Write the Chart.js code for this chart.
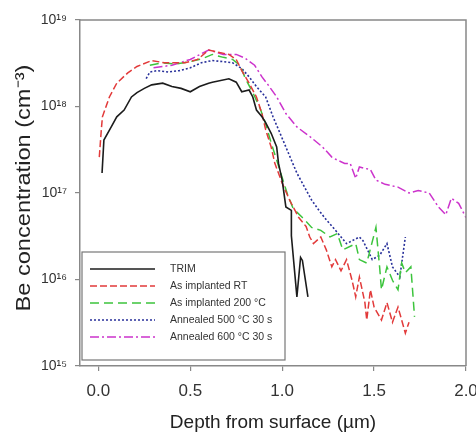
<!DOCTYPE html>
<html>
<head>
<meta charset="utf-8">
<script src="https://cdn.jsdelivr.net/npm/chart.js@4.4.0/dist/chart.umd.min.js"></script>
<style>
  html, body { margin: 0; padding: 0; background: #fff; }
  #wrap { width: 476px; height: 439px; }
</style>
</head>
<body>
<div id="wrap"><canvas id="chartBe" width="476" height="439"></canvas></div>
<script>
// Be depth profiles, depth in um, concentration in cm^-3
var seriesNames = ["TRIM", "As implanted RT", "As implanted 200 \u00B0C", "Annealed 500 \u00B0C 30 s", "Annealed 600 \u00B0C 30 s"];
var yTitle = "Be concentration (cm\u207B\u00B3)";

var trimDepth = [0.02, 0.03, 0.07, 0.10, 0.14, 0.18, 0.21, 0.25, 0.29, 0.35, 0.40, 0.45, 0.50, 0.55, 0.60, 0.62, 0.71, 0.75, 0.78, 0.82, 0.84, 0.86, 0.89, 0.91, 0.94, 0.97, 0.98, 1.00, 1.02, 1.05, 1.05, 1.08, 1.10, 1.11, 1.14];
var trimConc = [1.7e17, 4.1e17, 5.8e17, 7.6e17, 9.1e17, 1.29e18, 1.45e18, 1.62e18, 1.78e18, 1.86e18, 1.70e18, 1.62e18, 1.48e18, 1.70e18, 1.86e18, 1.91e18, 2.09e18, 1.91e18, 1.48e18, 1.55e18, 1.29e18, 9.1e17, 7.6e17, 6.5e17, 4.9e17, 3.4e17, 2.2e17, 1.4e17, 6.9e16, 6.3e16, 3.2e16, 6.3e15, 1.8e16, 1.66e16, 6.3e15];

var rtDepth = [0.005, 0.016, 0.022, 0.06, 0.10, 0.16, 0.21, 0.29, 0.36, 0.47, 0.54, 0.60, 0.66, 0.71, 0.75, 0.78, 0.82, 0.86, 0.89, 0.91, 0.94, 0.96, 1.00, 1.04, 1.09, 1.13, 1.15, 1.17, 1.21, 1.24, 1.27, 1.29, 1.32, 1.35, 1.38, 1.40, 1.42, 1.45, 1.46, 1.48, 1.50, 1.54, 1.57, 1.60, 1.63, 1.65, 1.67, 1.69];
var rtConc = [2.6e17, 5.4e17, 7.6e17, 1.29e18, 1.86e18, 2.45e18, 2.9e18, 3.4e18, 3.2e18, 3.2e18, 3.5e18, 4.5e18, 4.2e18, 4.0e18, 3.5e18, 2.6e18, 1.86e18, 1.29e18, 8.3e17, 5.4e17, 3.4e17, 2.2e17, 1.3e17, 8.3e16, 5.2e16, 4.1e16, 3.1e16, 2.6e16, 3.1e16, 2.2e16, 1.4e16, 1.7e16, 1.26e16, 1.7e16, 9.8e15, 6.3e15, 1.07e16, 5.4e15, 3.4e15, 7.6e15, 4.8e15, 3.4e15, 5.4e15, 3.2e15, 4.8e15, 3.4e15, 2.4e15, 3.2e15];

var t200Depth = [0.28, 0.35, 0.42, 0.50, 0.57, 0.62, 0.68, 0.73, 0.77, 0.80, 0.84, 0.88, 0.91, 0.94, 0.97, 1.00, 1.03, 1.06, 1.11, 1.16, 1.21, 1.26, 1.30, 1.33, 1.40, 1.42, 1.46, 1.51, 1.53, 1.54, 1.57, 1.60, 1.63, 1.65, 1.67, 1.70, 1.72];
var t200Conc = [3.0e18, 3.2e18, 3.1e18, 3.3e18, 3.6e18, 4.0e18, 3.7e18, 3.5e18, 3.0e18, 2.1e18, 1.45e18, 9.5e17, 6.3e17, 3.8e17, 2.4e17, 1.5e17, 9.5e16, 6.6e16, 5.2e16, 4.0e16, 3.7e16, 3.1e16, 3.4e16, 2.2e16, 2.6e16, 1.7e16, 1.55e16, 4.0e16, 1.4e16, 7.6e15, 1.4e16, 9.8e15, 7.6e15, 1.55e16, 1.2e16, 1.4e16, 3.7e15];

var a500Depth = [0.26, 0.28, 0.32, 0.38, 0.44, 0.50, 0.56, 0.62, 0.68, 0.73, 0.78, 0.82, 0.86, 0.91, 0.95, 0.98, 1.02, 1.05, 1.08, 1.11, 1.16, 1.20, 1.24, 1.29, 1.35, 1.38, 1.42, 1.44, 1.49, 1.53, 1.57, 1.60, 1.64, 1.67];
var a500Conc = [2.1e18, 2.5e18, 2.6e18, 2.5e18, 2.6e18, 2.8e18, 3.2e18, 3.4e18, 3.3e18, 3.2e18, 2.75e18, 2.2e18, 1.7e18, 1.29e18, 7.6e17, 5.4e17, 3.4e17, 2.4e17, 1.7e17, 1.3e17, 8.3e16, 6.3e16, 4.9e16, 3.7e16, 2.6e16, 2.8e16, 3.1e16, 2.8e16, 1.7e16, 1.9e16, 2.6e16, 1.4e16, 1.07e16, 3.1e16];

var a600Depth = [0.30, 0.40, 0.50, 0.60, 0.68, 0.75, 0.80, 0.85, 0.89, 0.93, 0.97, 1.02, 1.08, 1.15, 1.22, 1.27, 1.30, 1.34, 1.37, 1.40, 1.42, 1.48, 1.51, 1.56, 1.63, 1.69, 1.74, 1.80, 1.85, 1.89, 1.92, 1.96, 2.00];
var a600Conc = [2.8e18, 3.0e18, 3.5e18, 4.5e18, 4.0e18, 4.0e18, 3.6e18, 3.0e18, 2.2e18, 1.7e18, 1.29e18, 8.3e17, 5.8e17, 4.5e17, 3.4e17, 2.6e17, 2.4e17, 2.2e17, 2.2e17, 1.48e17, 2.0e17, 1.86e17, 1.41e17, 1.26e17, 1.17e17, 1.0e17, 1.07e17, 1.0e17, 6.9e16, 5.6e16, 8.7e16, 7.6e16, 5.2e16];

var xTickValues = [0.0, 0.5, 1.0, 1.5, 2.0];
var yTickExps = [15, 16, 17, 18, 19];

var supDigits = { "0": "\u2070", "1": "\u00B9", "2": "\u00B2", "3": "\u00B3", "4": "\u2074", "5": "\u2075", "6": "\u2076", "7": "\u2077", "8": "\u2078", "9": "\u2079" };

function toPoints(xs, ys) {
  return xs.map(function (x, i) { return { x: x, y: ys[i] }; });
}

function powLabel(v) {
  var e = Math.round(Math.log10(v));
  return "10" + String(e).split("").map(function (d) { return supDigits[d]; }).join("");
}

// legend box inside the plot (lower left), frame top/right, stretched y title
var insideLegend = {
  id: "insideLegend",
  afterDraw: function (chart) {
    var ctx = chart.ctx;
    var area = chart.chartArea;
    var x0 = area.left + 2, y0 = 252, w = 203, h = 108;
    ctx.save();
    ctx.fillStyle = "#fff";
    ctx.fillRect(x0, y0, w, h);
    ctx.strokeStyle = "#777";
    ctx.lineWidth = 1.2;
    ctx.strokeRect(x0, y0, w, h);
    ctx.font = "10.5px 'Liberation Sans', Arial, sans-serif";
    ctx.textBaseline = "middle";
    chart.data.datasets.forEach(function (ds, i) {
      var y = y0 + 17 + i * 17;
      ctx.beginPath();
      ctx.setLineDash(ds.borderDash || []);
      ctx.strokeStyle = ds.borderColor;
      ctx.lineWidth = ds.borderWidth;
      ctx.moveTo(x0 + 8, y);
      ctx.lineTo(x0 + 73, y);
      ctx.stroke();
      ctx.setLineDash([]);
      ctx.fillStyle = "#333";
      ctx.fillText(ds.label, x0 + 88, y);
    });
    ctx.strokeStyle = "#888";
    ctx.lineWidth = 1.5;
    ctx.beginPath();
    ctx.moveTo(area.left, area.top);
    ctx.lineTo(area.right, area.top);
    ctx.lineTo(area.right, area.bottom);
    ctx.stroke();

    ctx.translate(24, (area.top + area.bottom) / 2 - 5);
    ctx.rotate(-Math.PI / 2);
    ctx.scale(1.18, 1);
    ctx.font = "20px 'Liberation Sans', Arial, sans-serif";
    ctx.fillStyle = "#222";
    ctx.textAlign = "center";
    ctx.textBaseline = "middle";
    ctx.fillText(yTitle, 0, 0);
    ctx.restore();
  }
};

var ctx1 = document.getElementById("chartBe").getContext("2d");
window.beChart = new Chart(ctx1, {
  type: "line",
  data: {
    datasets: [
      {
        label: seriesNames[0],
        data: toPoints(trimDepth, trimConc),
        borderColor: "#1c1c1c",
        borderWidth: 1.6,
      },
      {
        label: seriesNames[1],
        data: toPoints(rtDepth, rtConc),
        borderColor: "#e23a3a",
        borderWidth: 1.5,
        borderDash: [7, 3],
      },
      {
        label: seriesNames[2],
        data: toPoints(t200Depth, t200Conc),
        borderColor: "#3cc43c",
        borderWidth: 1.5,
        borderDash: [9, 5],
      },
      {
        label: seriesNames[3],
        data: toPoints(a500Depth, a500Conc),
        borderColor: "#28309a",
        borderWidth: 1.6,
        borderDash: [2, 2],
      },
      {
        label: seriesNames[4],
        data: toPoints(a600Depth, a600Conc),
        borderColor: "#cc33cc",
        borderWidth: 1.5,
        borderDash: [9, 3, 2, 3],
      },
    ],
  },
  options: {
    responsive: false,
    animation: false,
    devicePixelRatio: 1,
    layout: { padding: { top: 20, right: 10, left: 0, bottom: 0 } },
    elements: { point: { radius: 0 }, line: { tension: 0, fill: false } },
    plugins: { legend: { display: false }, tooltip: { enabled: false } },
    scales: {
      x: {
        type: "linear",
        min: -0.1,
        max: 2.0,
        afterBuildTicks: function (scale) {
          scale.ticks = xTickValues.map(function (v) { return { value: v }; });
        },
        afterFit: function (scale) {
          scale.height = 73;
          scale.paddingLeft = 0;
          scale.paddingRight = 0;
        },
        ticks: {
          color: "#333",
          font: { family: "'Liberation Sans', Arial, sans-serif", size: 17 },
          padding: 10,
          maxRotation: 0,
          callback: function (v) { return Number(v).toFixed(1); },
        },
        grid: { display: true, drawOnChartArea: false, drawTicks: true, tickLength: 5, color: "#888", lineWidth: 1.2 },
        border: { display: true, color: "#888", width: 1.5 },
        title: {
          display: true,
          text: "Depth from surface (\u00B5m)",
          color: "#222",
          font: { family: "'Liberation Sans', Arial, sans-serif", size: 19 },
          padding: { top: 0, bottom: 5 },
        },
      },
      y: {
        type: "logarithmic",
        min: 1e15,
        max: 1e19,
        afterBuildTicks: function (scale) {
          scale.ticks = yTickExps.map(function (e) { return { value: Math.pow(10, e) }; });
        },
        afterFit: function (scale) {
          scale.width = 80;
        },
        ticks: {
          color: "#333",
          font: { family: "'Liberation Sans', Arial, sans-serif", size: 14 },
          padding: 8,
          callback: function (v) { return powLabel(v); },
        },
        grid: { display: true, drawOnChartArea: false, drawTicks: true, tickLength: 5, color: "#888", lineWidth: 1.2 },
        border: { display: true, color: "#888", width: 1.5 },
        title: { display: false },
      },
    },
  },
  plugins: [insideLegend],
});
</script>
</body>
</html>
